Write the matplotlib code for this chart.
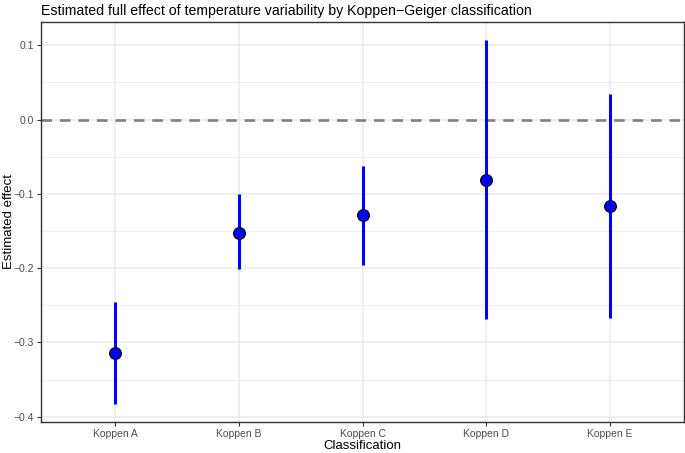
import matplotlib
matplotlib.use("Agg")
import matplotlib.pyplot as plt
import numpy as np

plt.rcParams["font.family"] = ["Liberation Sans", "DejaVu Sans"]

categories = ["Koppen A", "Koppen B", "Koppen C", "Koppen D", "Koppen E"]
estimates = [-0.314, -0.152, -0.129, -0.081, -0.116]
lower = [-0.383, -0.2015, -0.196, -0.269, -0.267]
upper = [-0.245, -0.100, -0.063, 0.107, 0.035]

fig = plt.figure(figsize=(6.85, 4.53), dpi=100)
ax = fig.add_axes([41/685, 1-421.7/453, (684-41)/685, (421.7-22)/453])

x = np.arange(1, len(categories)+1)
ax.set_xlim(0.4, 5.6)
ax.set_ylim(-0.4067, 0.1314)

ax.set_yticks([-0.4, -0.3, -0.2, -0.1, 0.0, 0.1])
ax.set_yticklabels(["\u22120.4", "\u22120.3", "\u22120.2", "\u22120.1", "0.0", "0.1"])
ax.set_yticks([-0.35, -0.25, -0.15, -0.05, 0.05], minor=True)
ax.set_xticks(x)
ax.set_xticklabels(categories)

ax.grid(True, which="major", color="#ebebeb", lw=1.1, zorder=0)
ax.grid(True, which="minor", axis="y", color="#ebebeb", lw=0.55, zorder=0)
ax.tick_params(which="minor", length=0)
ax.tick_params(which="major", length=3, width=0.8, color="#333333", labelsize=7.5, labelcolor="#4d4d4d", pad=2)
for s in ax.spines.values():
    s.set_color("#333333")
    s.set_linewidth(1.0)
ax.set_axisbelow(True)

ax.axhline(0, color="#808080", lw=1.9, ls=(0, (4, 3)), zorder=2)
ax.vlines(x, lower, upper, color="#0000ff", lw=2.2, zorder=3)
ax.plot(x, estimates, "o", ms=8.5, mfc="#0000ff", mec="black", mew=0.8, zorder=4)

ax.set_xlabel("Classification", fontsize=9.5, labelpad=1)
fig.text(9/685, 1-(22+421.7)/2/453, "Estimated effect", fontsize=9.5, rotation=90, ha="center", va="center")
fig.text(41/685, 1-11/453, "Estimated full effect of temperature variability by Koppen\u2212Geiger classification",
         fontsize=10.2, ha="left", va="center")

fig.savefig("out.png", dpi=100)
